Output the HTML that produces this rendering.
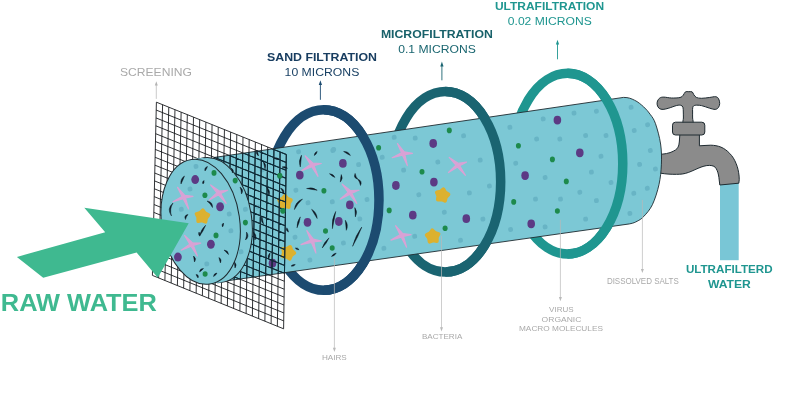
<!DOCTYPE html>
<html lang="en">
<head>
<meta charset="utf-8">
<title>Water filtration stages</title>
<style>
html,body{margin:0;padding:0;background:#fff;}
body{width:800px;height:415px;overflow:hidden;font-family:'Liberation Sans',sans-serif;}
svg{display:block;will-change:transform;}
</style>
</head>
<body>
<svg width="800" height="415" viewBox="0 0 800 415">
<rect width="800" height="415" fill="#ffffff"/>
<g fill="none" stroke-width="9.5">
<ellipse cx="323.7" cy="200" rx="55.3" ry="90.3" stroke="#1c4b70"/>
<ellipse cx="445.4" cy="181.75" rx="55.3" ry="90.3" stroke="#1a6471"/>
<ellipse cx="567.5" cy="163.65" rx="55.3" ry="90.3" stroke="#1f9690"/>
</g>
<g fill="#8b8b8b" stroke="#1e2a30" stroke-width="1" stroke-linejoin="round">
<rect x="720" y="182" width="18.7" height="78.2" fill="#79c6d6" stroke="none"/>
<path d="M679.9 134 L679.3 142 C679 146.5 677.5 148.6 675.6 149.9 C672.5 152 668.5 153.6 662 154.2 L655 154.4 L655 172.3 C662 173.5 668 174.3 672.8 174.3 C678 174.4 682 174.3 685.4 173.4 C690 172.2 694 170 698.1 168.3 C702 166.6 706 165.3 709.5 165.4 C713 165.5 715.2 166.5 716.3 168.8 C717.8 171.5 718.4 174 718.9 177.4 L719.8 185 L738.8 183.2 C739.3 181 739.4 178.5 739.1 176.1 C738.6 171.5 737.8 167.5 736.1 163.5 C734.6 159.8 732.6 156.3 729.7 153.4 C727.3 150.8 724.3 148.5 720.9 147.1 C717.7 145.8 714.3 145.3 710.8 145.2 C707 145.1 703 145.8 699.4 145.8 L699.4 134 Z"/>
<path d="M685.4 91.9 C686.32 91.33 687.67 91.7 688.8 91.7 C689.93 91.7 691.38 91.43 692.2 91.9 C693.02 92.37 693.02 93.58 693.7 94.5 C694.38 95.42 695 96.77 696.3 97.4 C697.6 98.03 699.33 98.28 701.5 98.3 C703.67 98.32 706.92 97.77 709.3 97.5 C711.68 97.23 714.23 96.45 715.8 96.7 C717.37 96.95 718.05 97.85 718.7 99 C719.35 100.15 719.75 102.18 719.7 103.6 C719.65 105.02 719.15 106.53 718.4 107.5 C717.65 108.47 716.72 109.3 715.2 109.4 C713.68 109.5 711.58 108.73 709.3 108.1 C707.02 107.47 703.85 106.07 701.5 105.6 C699.15 105.13 696.65 105.03 695.2 105.3 C693.75 105.57 693.23 106.08 692.8 107.2 C692.37 108.32 692.63 110.2 692.6 112 C692.57 113.8 692.6 116 692.6 118 C692.6 120 694.12 123 692.6 124 C691.08 125 685.03 125 683.5 124 C681.97 123 683.43 120 683.4 118 C683.37 116 683.38 113.8 683.3 112 C683.22 110.2 683.32 108.32 682.9 107.2 C682.48 106.08 681.83 105.58 680.8 105.3 C679.77 105.02 678.68 105.03 676.7 105.5 C674.72 105.97 671.17 107.45 668.9 108.1 C666.63 108.75 664.72 109.35 663.1 109.4 C661.48 109.45 660.18 109.15 659.2 108.4 C658.22 107.65 657.48 106.13 657.2 104.9 C656.92 103.67 657.07 102.15 657.5 101 C657.93 99.85 658.77 98.65 659.8 98 C660.83 97.35 661.75 97.1 663.7 97.1 C665.65 97.1 668.78 97.93 671.5 98 C674.22 98.07 678.03 97.98 680 97.5 C681.97 97.02 682.4 96.03 683.3 95.1 C684.2 94.17 684.48 92.47 685.4 91.9Z"/>
<rect x="672.5" y="122.2" width="32.3" height="12.8" rx="3" ry="3"/>
</g>
<path d="M214 157.5 L623.5 97.4 C628.75 97.37 631.13 98.62 634.5 100.2 C637.87 101.78 641.05 104.5 643.7 106.9 C646.35 109.3 648.43 111.8 650.4 114.6 C652.37 117.4 653.8 118.8 655.5 123.7 C657.2 128.6 659.62 137.25 660.6 144 C661.58 150.75 661.67 157.45 661.4 164.2 C661.13 170.95 660.5 177.75 659 184.5 C657.5 191.25 654.95 199.37 652.4 204.7 C649.85 210.03 646.23 213.75 643.7 216.5 C641.17 219.25 639.57 219.97 637.2 221.2 C634.83 222.43 634.03 222.98 629.5 223.9 L228 280.7 Z" fill="#7cc8d5" stroke="#1e2a30" stroke-width="0.9"/>
<g fill="#68b4c5">
<rect x="296.2" y="149.3" width="4.8" height="4.8" rx="1.9" ry="1.9" transform="rotate(-8 298.6 151.7)"/>
<rect x="330.4" y="148.1" width="4.8" height="4.8" rx="1.9" ry="1.9" transform="rotate(-8 332.8 150.5)"/>
<rect x="293.5" y="187.8" width="4.8" height="4.8" rx="1.9" ry="1.9" transform="rotate(-8 295.9 190.2)"/>
<rect x="305.6" y="200.4" width="4.8" height="4.8" rx="1.9" ry="1.9" transform="rotate(-8 308 202.8)"/>
<rect x="329.9" y="199.4" width="4.8" height="4.8" rx="1.9" ry="1.9" transform="rotate(-8 332.3 201.8)"/>
<rect x="255.6" y="204.6" width="4.8" height="4.8" rx="1.9" ry="1.9" transform="rotate(-8 258 207)"/>
<rect x="242.6" y="207.1" width="4.8" height="4.8" rx="1.9" ry="1.9" transform="rotate(-8 245 209.5)"/>
<rect x="292.6" y="234.8" width="4.8" height="4.8" rx="1.9" ry="1.9" transform="rotate(-8 295 237.2)"/>
<rect x="307.5" y="257.6" width="4.8" height="4.8" rx="1.9" ry="1.9" transform="rotate(-8 309.9 260)"/>
<rect x="331.3" y="147" width="4.8" height="4.8" rx="1.9" ry="1.9" transform="rotate(-8 333.7 149.4)"/>
<rect x="356.2" y="162.2" width="4.8" height="4.8" rx="1.9" ry="1.9" transform="rotate(-8 358.6 164.6)"/>
<rect x="379.8" y="154.9" width="4.8" height="4.8" rx="1.9" ry="1.9" transform="rotate(-8 382.2 157.3)"/>
<rect x="391.8" y="134.9" width="4.8" height="4.8" rx="1.9" ry="1.9" transform="rotate(-8 394.2 137.3)"/>
<rect x="412.8" y="135.7" width="4.8" height="4.8" rx="1.9" ry="1.9" transform="rotate(-8 415.2 138.1)"/>
<rect x="401.2" y="167.7" width="4.8" height="4.8" rx="1.9" ry="1.9" transform="rotate(-8 403.6 170.1)"/>
<rect x="364.6" y="197.1" width="4.8" height="4.8" rx="1.9" ry="1.9" transform="rotate(-8 367 199.5)"/>
<rect x="416.4" y="192.3" width="4.8" height="4.8" rx="1.9" ry="1.9" transform="rotate(-8 418.8 194.7)"/>
<rect x="357.4" y="216.5" width="4.8" height="4.8" rx="1.9" ry="1.9" transform="rotate(-8 359.8 218.9)"/>
<rect x="341" y="240.6" width="4.8" height="4.8" rx="1.9" ry="1.9" transform="rotate(-8 343.4 243)"/>
<rect x="381.5" y="245.9" width="4.8" height="4.8" rx="1.9" ry="1.9" transform="rotate(-8 383.9 248.3)"/>
<rect x="412.3" y="233.9" width="4.8" height="4.8" rx="1.9" ry="1.9" transform="rotate(-8 414.7 236.3)"/>
<rect x="461.2" y="133.4" width="4.8" height="4.8" rx="1.9" ry="1.9" transform="rotate(-8 463.6 135.8)"/>
<rect x="435.4" y="159.6" width="4.8" height="4.8" rx="1.9" ry="1.9" transform="rotate(-8 437.8 162)"/>
<rect x="477.8" y="157.7" width="4.8" height="4.8" rx="1.9" ry="1.9" transform="rotate(-8 480.2 160.1)"/>
<rect x="467" y="190.5" width="4.8" height="4.8" rx="1.9" ry="1.9" transform="rotate(-8 469.4 192.9)"/>
<rect x="487" y="183.6" width="4.8" height="4.8" rx="1.9" ry="1.9" transform="rotate(-8 489.4 186)"/>
<rect x="441.9" y="209.8" width="4.8" height="4.8" rx="1.9" ry="1.9" transform="rotate(-8 444.3 212.2)"/>
<rect x="480.5" y="216.7" width="4.8" height="4.8" rx="1.9" ry="1.9" transform="rotate(-8 482.9 219.1)"/>
<rect x="458.1" y="237.9" width="4.8" height="4.8" rx="1.9" ry="1.9" transform="rotate(-8 460.5 240.3)"/>
<rect x="507.5" y="124.9" width="4.8" height="4.8" rx="1.9" ry="1.9" transform="rotate(-8 509.9 127.3)"/>
<rect x="513.3" y="160.8" width="4.8" height="4.8" rx="1.9" ry="1.9" transform="rotate(-8 515.7 163.2)"/>
<rect x="508.2" y="227.1" width="4.8" height="4.8" rx="1.9" ry="1.9" transform="rotate(-8 510.6 229.5)"/>
<rect x="540.8" y="116.5" width="4.8" height="4.8" rx="1.9" ry="1.9" transform="rotate(-8 543.2 118.9)"/>
<rect x="571.6" y="110.7" width="4.8" height="4.8" rx="1.9" ry="1.9" transform="rotate(-8 574 113.1)"/>
<rect x="594" y="108.8" width="4.8" height="4.8" rx="1.9" ry="1.9" transform="rotate(-8 596.4 111.2)"/>
<rect x="628.7" y="104.9" width="4.8" height="4.8" rx="1.9" ry="1.9" transform="rotate(-8 631.1 107.3)"/>
<rect x="534.2" y="136.6" width="4.8" height="4.8" rx="1.9" ry="1.9" transform="rotate(-8 536.6 139)"/>
<rect x="557.4" y="136.6" width="4.8" height="4.8" rx="1.9" ry="1.9" transform="rotate(-8 559.8 139)"/>
<rect x="583.2" y="133.1" width="4.8" height="4.8" rx="1.9" ry="1.9" transform="rotate(-8 585.6 135.5)"/>
<rect x="603.6" y="133.1" width="4.8" height="4.8" rx="1.9" ry="1.9" transform="rotate(-8 606 135.5)"/>
<rect x="631.8" y="128.1" width="4.8" height="4.8" rx="1.9" ry="1.9" transform="rotate(-8 634.2 130.5)"/>
<rect x="645.2" y="122.3" width="4.8" height="4.8" rx="1.9" ry="1.9" transform="rotate(-8 647.6 124.7)"/>
<rect x="598.6" y="153.9" width="4.8" height="4.8" rx="1.9" ry="1.9" transform="rotate(-8 601 156.3)"/>
<rect x="647.9" y="148.1" width="4.8" height="4.8" rx="1.9" ry="1.9" transform="rotate(-8 650.3 150.5)"/>
<rect x="589" y="169.7" width="4.8" height="4.8" rx="1.9" ry="1.9" transform="rotate(-8 591.4 172.1)"/>
<rect x="637.2" y="162" width="4.8" height="4.8" rx="1.9" ry="1.9" transform="rotate(-8 639.6 164.4)"/>
<rect x="653" y="166.6" width="4.8" height="4.8" rx="1.9" ry="1.9" transform="rotate(-8 655.4 169)"/>
<rect x="542.7" y="175.1" width="4.8" height="4.8" rx="1.9" ry="1.9" transform="rotate(-8 545.1 177.5)"/>
<rect x="608.6" y="180.1" width="4.8" height="4.8" rx="1.9" ry="1.9" transform="rotate(-8 611 182.5)"/>
<rect x="644.9" y="185.9" width="4.8" height="4.8" rx="1.9" ry="1.9" transform="rotate(-8 647.3 188.3)"/>
<rect x="577.4" y="189.8" width="4.8" height="4.8" rx="1.9" ry="1.9" transform="rotate(-8 579.8 192.2)"/>
<rect x="631.4" y="190.9" width="4.8" height="4.8" rx="1.9" ry="1.9" transform="rotate(-8 633.8 193.3)"/>
<rect x="533.1" y="196.7" width="4.8" height="4.8" rx="1.9" ry="1.9" transform="rotate(-8 535.5 199.1)"/>
<rect x="558.1" y="196.7" width="4.8" height="4.8" rx="1.9" ry="1.9" transform="rotate(-8 560.5 199.1)"/>
<rect x="594" y="198.2" width="4.8" height="4.8" rx="1.9" ry="1.9" transform="rotate(-8 596.4 200.6)"/>
<rect x="583.2" y="216.7" width="4.8" height="4.8" rx="1.9" ry="1.9" transform="rotate(-8 585.6 219.1)"/>
<rect x="627.5" y="211" width="4.8" height="4.8" rx="1.9" ry="1.9" transform="rotate(-8 629.9 213.4)"/>
<rect x="542.7" y="224.5" width="4.8" height="4.8" rx="1.9" ry="1.9" transform="rotate(-8 545.1 226.9)"/>
<rect x="611.6" y="106.1" width="4.8" height="4.8" rx="1.9" ry="1.9" transform="rotate(-8 614 108.5)"/>
<rect x="259.6" y="167.6" width="4.8" height="4.8" rx="1.9" ry="1.9" transform="rotate(-8 262 170)"/>
<rect x="247.6" y="243.6" width="4.8" height="4.8" rx="1.9" ry="1.9" transform="rotate(-8 250 246)"/>
<rect x="265.6" y="229.6" width="4.8" height="4.8" rx="1.9" ry="1.9" transform="rotate(-8 268 232)"/>
</g>
<g fill="#5c3a84">
<ellipse cx="299.8" cy="175.1" rx="3.8" ry="4.4"/>
<ellipse cx="307.5" cy="222.3" rx="3.8" ry="4.4"/>
<ellipse cx="338.8" cy="221.5" rx="3.8" ry="4.4"/>
<ellipse cx="272.5" cy="263.2" rx="3.8" ry="4.4"/>
<ellipse cx="342.9" cy="163.4" rx="3.8" ry="4.4"/>
<ellipse cx="349.8" cy="204.9" rx="3.8" ry="4.4"/>
<ellipse cx="395.9" cy="185.5" rx="3.8" ry="4.4"/>
<ellipse cx="412.8" cy="215.2" rx="3.8" ry="4.4"/>
<ellipse cx="433.2" cy="143.5" rx="3.8" ry="4.4"/>
<ellipse cx="433.9" cy="182.1" rx="3.8" ry="4.4"/>
<ellipse cx="466.3" cy="218.7" rx="3.8" ry="4.4"/>
<ellipse cx="557.4" cy="120.1" rx="3.8" ry="4.4"/>
<ellipse cx="579.8" cy="152.8" rx="3.8" ry="4.4"/>
<ellipse cx="525.1" cy="175.6" rx="3.8" ry="4.4"/>
<ellipse cx="531.2" cy="223.8" rx="3.8" ry="4.4"/>
</g>
<g fill="#1d8a4c">
<ellipse cx="279.8" cy="175.8" rx="2.5" ry="2.8"/>
<ellipse cx="323.9" cy="190.7" rx="2.5" ry="2.8"/>
<ellipse cx="282.9" cy="210.7" rx="2.5" ry="2.8"/>
<ellipse cx="245.3" cy="222.5" rx="2.5" ry="2.8"/>
<ellipse cx="325.5" cy="231" rx="2.5" ry="2.8"/>
<ellipse cx="332.2" cy="248" rx="2.5" ry="2.8"/>
<ellipse cx="378.6" cy="147.7" rx="2.5" ry="2.8"/>
<ellipse cx="389.2" cy="210.4" rx="2.5" ry="2.8"/>
<ellipse cx="449.3" cy="130.4" rx="2.5" ry="2.8"/>
<ellipse cx="422" cy="171.7" rx="2.5" ry="2.8"/>
<ellipse cx="445.1" cy="228.3" rx="2.5" ry="2.8"/>
<ellipse cx="513.7" cy="201.9" rx="2.5" ry="2.8"/>
<ellipse cx="518.4" cy="145.7" rx="2.5" ry="2.8"/>
<ellipse cx="552.4" cy="159.4" rx="2.5" ry="2.8"/>
<ellipse cx="566.3" cy="181.4" rx="2.5" ry="2.8"/>
<ellipse cx="557.4" cy="211" rx="2.5" ry="2.8"/>
</g>
<path d="M-7.12 -9.03 L0.69 -1.77 L9.03 -1.42 L1.69 0.87 L5.7 11.4 L-0.57 1.81 L-10.45 5.7 L-1.86 -0.38Z" fill="#d9a2d5" stroke="#d9a2d5" stroke-width="1.2" stroke-linejoin="round" transform="translate(312.3 164.9) rotate(0)"/>
<path d="M-7.12 -9.03 L0.69 -1.77 L9.03 -1.42 L1.69 0.87 L5.7 11.4 L-0.57 1.81 L-10.45 5.7 L-1.86 -0.38Z" fill="#d9a2d5" stroke="#d9a2d5" stroke-width="1.2" stroke-linejoin="round" transform="translate(312.3 240.8) rotate(10)"/>
<path d="M-7.12 -9.03 L0.69 -1.77 L9.03 -1.42 L1.69 0.87 L5.7 11.4 L-0.57 1.81 L-10.45 5.7 L-1.86 -0.38Z" fill="#d9a2d5" stroke="#d9a2d5" stroke-width="1.2" stroke-linejoin="round" transform="translate(350.1 192.5) rotate(-5)"/>
<path d="M-7.12 -9.03 L0.69 -1.77 L9.03 -1.42 L1.69 0.87 L5.7 11.4 L-0.57 1.81 L-10.45 5.7 L-1.86 -0.38Z" fill="#d9a2d5" stroke="#d9a2d5" stroke-width="1.2" stroke-linejoin="round" transform="translate(403.3 153.5) rotate(8)"/>
<path d="M-7.12 -9.03 L0.69 -1.77 L9.03 -1.42 L1.69 0.87 L5.7 11.4 L-0.57 1.81 L-10.45 5.7 L-1.86 -0.38Z" fill="#d9a2d5" stroke="#d9a2d5" stroke-width="1.2" stroke-linejoin="round" transform="translate(401.9 235.3) rotate(5)"/>
<path d="M-7.12 -9.03 L0.69 -1.77 L9.03 -1.42 L1.69 0.87 L5.7 11.4 L-0.57 1.81 L-10.45 5.7 L-1.86 -0.38Z" fill="#d9a2d5" stroke="#d9a2d5" stroke-width="1.2" stroke-linejoin="round" transform="translate(457.8 165.1) rotate(-10)"/>
<path d="M0 -6.2 L2.41 -3.31 L5.9 -1.92 L3.89 1.26 L3.64 5.02 L0 4.09 L-3.64 5.02 L-3.89 1.26 L-5.9 -1.92 L-2.41 -3.31Z" fill="#dcb12f" stroke="#dcb12f" stroke-width="3.8" stroke-linejoin="round" transform="translate(285 202) rotate(0)"/>
<path d="M0 -6.2 L2.41 -3.31 L5.9 -1.92 L3.89 1.26 L3.64 5.02 L0 4.09 L-3.64 5.02 L-3.89 1.26 L-5.9 -1.92 L-2.41 -3.31Z" fill="#dcb12f" stroke="#dcb12f" stroke-width="3.8" stroke-linejoin="round" transform="translate(288 252.8) rotate(20)"/>
<path d="M0 -6.2 L2.41 -3.31 L5.9 -1.92 L3.89 1.26 L3.64 5.02 L0 4.09 L-3.64 5.02 L-3.89 1.26 L-5.9 -1.92 L-2.41 -3.31Z" fill="#dcb12f" stroke="#dcb12f" stroke-width="3.8" stroke-linejoin="round" transform="translate(442.3 195.3) rotate(10)"/>
<path d="M0 -6.2 L2.41 -3.31 L5.9 -1.92 L3.89 1.26 L3.64 5.02 L0 4.09 L-3.64 5.02 L-3.89 1.26 L-5.9 -1.92 L-2.41 -3.31Z" fill="#dcb12f" stroke="#dcb12f" stroke-width="3.8" stroke-linejoin="round" transform="translate(432.8 236.4) rotate(-5)"/>
<g fill="#0e1a26" stroke="#0e1a26" stroke-width="0.45" stroke-linejoin="round">
<path d="M301.5 155.2 Q297.99 160.8 300.3 167 Q300.98 161.11 301.5 155.2Z"/>
<path d="M317.2 151.5 Q314.34 152.47 314.3 155.5 Q316.76 154.24 317.2 151.5Z"/>
<path d="M343.6 151.5 Q346.84 153.77 350.4 155.5 Q348.36 151.19 343.6 151.5Z"/>
<path d="M329.5 173.7 Q331.72 176.25 334.9 177.4 Q333.42 173.77 329.5 173.7Z"/>
<path d="M341.3 174.6 Q340.44 178.3 340.3 182.1 Q343.41 178.7 341.3 174.6Z"/>
<path d="M355.1 173.4 Q353.06 177.88 357.8 179.2 Q355.78 176.61 355.1 173.4Z"/>
<path d="M357.8 179.2 Q359.98 182 360.5 185.5 Q362.73 180.81 357.8 179.2Z"/>
<path d="M306.6 188.5 Q311.87 189.56 317.2 190.2 Q312.34 186.6 306.6 188.5Z"/>
<path d="M302.5 199 Q295.14 201.77 294.4 209.6 Q297.52 203.59 302.5 199Z"/>
<path d="M311.6 209.3 Q314.22 214.01 317.2 218.5 Q316.79 212.45 311.6 209.3Z"/>
<path d="M300.3 216.9 Q296.67 221.75 297 227.8 Q299.54 222.62 300.3 216.9Z"/>
<path d="M335.7 211.5 Q331.2 219.55 332.4 228.7 Q334.15 220.12 335.7 211.5Z"/>
<path d="M354.8 207.6 Q355 212.26 355.4 216.9 Q357.99 212.06 354.8 207.6Z"/>
<path d="M345.3 220.2 Q345.82 225.25 346.3 230.3 Q348.81 224.95 345.3 220.2Z"/>
<path d="M361.8 227 Q355.27 235.73 352.6 246.3 Q357.98 237.02 361.8 227Z"/>
<path d="M329 237.9 Q324.05 241.91 322.2 248 Q326.54 243.58 329 237.9Z"/>
<path d="M336.2 253.1 Q332.97 253.58 331.5 256.5 Q334.73 256.02 336.2 253.1Z"/>
<path d="M286.8 227.8 Q285.42 230.8 288.5 232 Q288.2 229.68 286.8 227.8Z"/>
<path d="M295.3 248 Q296.59 250.22 299.1 249.7 Q297.81 247.48 295.3 248Z"/>
<path d="M291.1 266 Q293.67 266.72 295.3 264.6 Q292.73 263.88 291.1 266Z"/>
</g>
<g stroke="#15171a" stroke-width="0.88" fill="none">
<path d="M156.4 102.2L152.4 275.4M162.59 104.69L158.65 277.94M168.77 107.18L164.9 280.49M174.96 109.67L171.14 283.03M181.14 112.16L177.39 285.57M187.33 114.65L183.64 288.11M193.51 117.14L189.89 290.66M199.7 119.63L196.13 293.2M205.89 122.12L202.38 295.74M212.07 124.61L208.63 298.29M218.26 127.1L214.88 300.83M224.44 129.6L221.12 303.37M230.63 132.09L227.37 305.91M236.81 134.58L233.62 308.46M243 137.07L239.87 311M249.19 139.56L246.11 313.54M255.37 142.05L252.36 316.09M261.56 144.54L258.61 318.63M267.74 147.03L264.86 321.17M273.93 149.52L271.1 323.71M280.11 152.01L277.35 326.26M286.3 154.5L283.6 328.8M156.4 102.2L286.3 154.5M156.22 110.07L286.18 162.42M156.04 117.95L286.05 170.35M155.85 125.82L285.93 178.27M155.67 133.69L285.81 186.19M155.49 141.56L285.69 194.11M155.31 149.44L285.56 202.04M155.13 157.31L285.44 209.96M154.95 165.18L285.32 217.88M154.76 173.05L285.2 225.8M154.58 180.93L285.07 233.73M154.4 188.8L284.95 241.65M154.22 196.67L284.83 249.57M154.04 204.55L284.7 257.5M153.85 212.42L284.58 265.42M153.67 220.29L284.46 273.34M153.49 228.16L284.34 281.26M153.31 236.04L284.21 289.19M153.13 243.91L284.09 297.11M152.95 251.78L283.97 305.03M152.76 259.65L283.85 312.95M152.58 267.53L283.72 320.88M152.4 275.4L283.6 328.8"/>
</g>
<clipPath id="tubeclip"><path d="M214 157.5 L300 144.88 L300 270.51 L228 280.7 Z"/></clipPath>
<path d="M156.4 102.2L152.4 275.4M162.59 104.69L158.65 277.94M168.77 107.18L164.9 280.49M174.96 109.67L171.14 283.03M181.14 112.16L177.39 285.57M187.33 114.65L183.64 288.11M193.51 117.14L189.89 290.66M199.7 119.63L196.13 293.2M205.89 122.12L202.38 295.74M212.07 124.61L208.63 298.29M218.26 127.1L214.88 300.83M224.44 129.6L221.12 303.37M230.63 132.09L227.37 305.91M236.81 134.58L233.62 308.46M243 137.07L239.87 311M249.19 139.56L246.11 313.54M255.37 142.05L252.36 316.09M261.56 144.54L258.61 318.63M267.74 147.03L264.86 321.17M273.93 149.52L271.1 323.71M280.11 152.01L277.35 326.26M286.3 154.5L283.6 328.8M156.4 102.2L286.3 154.5M156.22 110.07L286.18 162.42M156.04 117.95L286.05 170.35M155.85 125.82L285.93 178.27M155.67 133.69L285.81 186.19M155.49 141.56L285.69 194.11M155.31 149.44L285.56 202.04M155.13 157.31L285.44 209.96M154.95 165.18L285.32 217.88M154.76 173.05L285.2 225.8M154.58 180.93L285.07 233.73M154.4 188.8L284.95 241.65M154.22 196.67L284.83 249.57M154.04 204.55L284.7 257.5M153.85 212.42L284.58 265.42M153.67 220.29L284.46 273.34M153.49 228.16L284.34 281.26M153.31 236.04L284.21 289.19M153.13 243.91L284.09 297.11M152.95 251.78L283.97 305.03M152.76 259.65L283.85 312.95M152.58 267.53L283.72 320.88M152.4 275.4L283.6 328.8" stroke="#0c2c3a" stroke-width="1.05" fill="none" clip-path="url(#tubeclip)"/>
<g fill="#1d8a4c">
<ellipse cx="279.8" cy="175.8" rx="2.5" ry="2.8"/>
<ellipse cx="282.9" cy="210.7" rx="2.5" ry="2.8"/>
</g>
<g fill="#0e1a26" stroke="#0e1a26" stroke-width="0.45" stroke-linejoin="round">
<path d="M263.3 161.5 Q264.19 165.24 265 169 Q267.11 164.58 263.3 161.5Z"/>
<path d="M274 158.3 Q276.29 160.14 279 159 Q276.71 157.16 274 158.3Z"/>
<path d="M282 167 Q284.53 168.56 287.5 168.3 Q285.23 165.64 282 167Z"/>
<path d="M266.5 187 Q268.1 191.4 269 196 Q271 190.6 266.5 187Z"/>
<path d="M280.5 188 Q282.46 190.77 283.5 194 Q285.14 189.43 280.5 188Z"/>
<path d="M257 150 Q255.09 153.66 258.5 156 Q258.01 152.94 257 150Z"/>
<path d="M262 216 Q259.68 220.58 263.5 224 Q262.62 220.02 262 216Z"/>
<path d="M270 253 Q267.19 255.49 268.5 259 Q270.11 256.21 270 253Z"/>
<path d="M253.5 232 Q254.38 235.98 255 240 Q257.32 235.42 253.5 232Z"/>
</g>
<g fill="#7cc8d5" stroke="#1e2a30" stroke-width="1">
<ellipse cx="212.65" cy="220.05" rx="39" ry="63" transform="rotate(-8.4 212.65 220.05)"/>
<path d="M191.4 159.4 L203.4 157.8 L221.8 282.3 L209.9 284 Z" stroke="none"/>
<ellipse cx="200.65" cy="221.75" rx="39" ry="63" transform="rotate(-8.4 200.65 221.75)"/>
</g>
<g fill="#68b4c5">
<rect x="193.6" y="164" width="4.8" height="4.8" rx="1.9" ry="1.9" transform="rotate(-8 196 166.4)"/>
<rect x="187.6" y="186.6" width="4.8" height="4.8" rx="1.9" ry="1.9" transform="rotate(-8 190 189)"/>
<rect x="178.9" y="206.9" width="4.8" height="4.8" rx="1.9" ry="1.9" transform="rotate(-8 181.3 209.3)"/>
<rect x="226.8" y="211.6" width="4.8" height="4.8" rx="1.9" ry="1.9" transform="rotate(-8 229.2 214)"/>
<rect x="228.5" y="228.4" width="4.8" height="4.8" rx="1.9" ry="1.9" transform="rotate(-8 230.9 230.8)"/>
<rect x="204.4" y="261.5" width="4.8" height="4.8" rx="1.9" ry="1.9" transform="rotate(-8 206.8 263.9)"/>
<rect x="243" y="206.9" width="4.8" height="4.8" rx="1.9" ry="1.9" transform="rotate(-8 245.4 209.3)"/>
<rect x="238.6" y="249.4" width="4.8" height="4.8" rx="1.9" ry="1.9" transform="rotate(-8 241 251.8)"/>
</g>
<g fill="#5c3a84">
<ellipse cx="195.2" cy="179.6" rx="3.9" ry="4.5"/>
<ellipse cx="220.1" cy="206.7" rx="3.9" ry="4.5"/>
<ellipse cx="210.9" cy="244.3" rx="3.9" ry="4.5"/>
<ellipse cx="177.9" cy="257.1" rx="3.9" ry="4.5"/>
</g>
<g fill="#1d8a4c">
<ellipse cx="214" cy="172.9" rx="2.5" ry="2.8"/>
<ellipse cx="204.9" cy="195.3" rx="2.5" ry="2.8"/>
<ellipse cx="216" cy="235.4" rx="2.5" ry="2.8"/>
<ellipse cx="205.1" cy="274" rx="2.5" ry="2.8"/>
<ellipse cx="235.2" cy="180.6" rx="2.5" ry="2.8"/>
<ellipse cx="245.4" cy="222.6" rx="2.5" ry="2.8"/>
</g>
<path d="M-7.12 -9.03 L0.69 -1.77 L9.03 -1.42 L1.69 0.87 L5.7 11.4 L-0.57 1.81 L-10.45 5.7 L-1.86 -0.38Z" fill="#d9a2d5" stroke="#d9a2d5" stroke-width="1.2" stroke-linejoin="round" transform="translate(183.9 197) rotate(5)"/>
<path d="M-7.12 -9.03 L0.69 -1.77 L9.03 -1.42 L1.69 0.87 L5.7 11.4 L-0.57 1.81 L-10.45 5.7 L-1.86 -0.38Z" fill="#d9a2d5" stroke="#d9a2d5" stroke-width="1.2" stroke-linejoin="round" transform="translate(218.9 192.9) rotate(-8)"/>
<path d="M-7.12 -9.03 L0.69 -1.77 L9.03 -1.42 L1.69 0.87 L5.7 11.4 L-0.57 1.81 L-10.45 5.7 L-1.86 -0.38Z" fill="#d9a2d5" stroke="#d9a2d5" stroke-width="1.2" stroke-linejoin="round" transform="translate(191.7 244.5) rotate(0)"/>
<path d="M0 -6.2 L2.41 -3.31 L5.9 -1.92 L3.89 1.26 L3.64 5.02 L0 4.09 L-3.64 5.02 L-3.89 1.26 L-5.9 -1.92 L-2.41 -3.31Z" fill="#dcb12f" stroke="#dcb12f" stroke-width="3.8" stroke-linejoin="round" transform="translate(202.3 216.4) rotate(5)"/>
<g fill="#0e1a26" stroke="#0e1a26" stroke-width="0.45" stroke-linejoin="round">
<path d="M207.5 166.5 Q204.04 167.52 205 171 Q206.66 168.98 207.5 166.5Z"/>
<path d="M184.5 176 Q180.18 178.87 181 184 Q182.92 180.08 184.5 176Z"/>
<path d="M204 180.5 Q201.71 181.74 203 184 Q204.59 182.56 204 180.5Z"/>
<path d="M173 203 Q166.21 208.8 171.5 216 Q169.19 209.15 173 203Z"/>
<path d="M188 214.5 Q183.41 215.33 185.5 219.5 Q186.09 216.67 188 214.5Z"/>
<path d="M207 201 Q210.55 203.57 212.5 207.5 Q212.85 201.63 207 201Z"/>
<path d="M205.6 225.3 Q200.75 229.67 199.6 236.1 Q203.37 231.13 205.6 225.3Z"/>
<path d="M199.6 236.1 Q200.78 233.83 199 232 Q197.82 234.27 199.6 236.1Z"/>
<path d="M223.5 223 Q221.14 224.54 222.5 227 Q224.06 225.26 223.5 223Z"/>
<path d="M224 250 Q226.09 252.41 228.5 254.5 Q228.21 250.29 224 250Z"/>
<path d="M193.5 256 Q194.02 259 194.5 262 Q196.98 258.5 193.5 256Z"/>
<path d="M219 257.5 Q219.4 260.34 220.5 263 Q222.3 259.56 219 257.5Z"/>
<path d="M203.5 268.5 Q199.81 268.32 199.5 272 Q201.79 270.58 203.5 268.5Z"/>
<path d="M196 274.5 Q196.75 276.39 198 278 Q199.35 274.91 196 274.5Z"/>
<path d="M217 273 Q213.84 273.34 213.5 276.5 Q215.96 275.46 217 273Z"/>
<path d="M234.5 262 Q234.46 265.02 235 268 Q237.44 264.78 234.5 262Z"/>
<path d="M240 187 Q241.38 190.36 241.5 194 Q244.32 189.74 240 187Z"/>
<path d="M231 168 Q231.81 170.48 232.5 173 Q234.69 169.62 231 168Z"/>
<path d="M246.5 232 Q246.91 236.11 245.5 240 Q249.89 236.49 246.5 232Z"/>
</g>
<polygon points="16.9,256.9 105.2,232.3 84.3,207.7 188.7,223.2 157.8,277.8 136.6,252.5 43.2,277.8" fill="#3fb990"/>
<g fill="none" stroke-width="9.5">
<path d="M323.7 109.7 A55.3 90.3 0 0 1 323.7 290.3" stroke="#1c4b70"/>
<path d="M445.4 91.45 A55.3 90.3 0 0 1 445.4 272.05" stroke="#1a6471"/>
<path d="M567.5 73.35 A55.3 90.3 0 0 1 567.5 253.95" stroke="#1f9690"/>
</g>
<path d="M156.3 98.9 L156.3 83.82" stroke="#b4b4b4" stroke-width="0.7" fill="none"/>
<path d="M156.3 81.3 L154.8 85.5 L157.8 85.5 Z" fill="#b4b4b4"/>
<path d="M320.4 99.8 L320.4 83.18" stroke="#1c4b70" stroke-width="0.9" fill="none"/>
<path d="M320.4 80.3 L318.77 85.1 L322.03 85.1 Z" fill="#1c4b70"/>
<path d="M441.9 80.3 L441.9 64.48" stroke="#1a6471" stroke-width="0.9" fill="none"/>
<path d="M441.9 61.6 L440.27 66.4 L443.53 66.4 Z" fill="#1a6471"/>
<path d="M557.5 59.3 L557.5 42.58" stroke="#1f9690" stroke-width="0.9" fill="none"/>
<path d="M557.5 39.7 L555.87 44.5 L559.13 44.5 Z" fill="#1f9690"/>
<path d="M334.4 257.6 L334.4 349.38" stroke="#b9b9b9" stroke-width="0.7" fill="none"/>
<path d="M334.4 351.9 L332.9 347.7 L335.9 347.7 Z" fill="#b9b9b9"/>
<path d="M441.5 235.8 L441.5 328.88" stroke="#b9b9b9" stroke-width="0.7" fill="none"/>
<path d="M441.5 331.4 L440 327.2 L443 327.2 Z" fill="#b9b9b9"/>
<path d="M560.4 219.8 L560.4 298.78" stroke="#b9b9b9" stroke-width="0.7" fill="none"/>
<path d="M560.4 301.3 L558.9 297.1 L561.9 297.1 Z" fill="#b9b9b9"/>
<path d="M642.4 199.9 L642.4 270.58" stroke="#b9b9b9" stroke-width="0.7" fill="none"/>
<path d="M642.4 273.1 L640.9 268.9 L643.9 268.9 Z" fill="#b9b9b9"/>
<text x="120" y="76.2" font-family="'Liberation Sans', sans-serif" font-size="11.8" font-weight="normal" fill="#a9a9a9" textLength="71.9" lengthAdjust="spacingAndGlyphs">SCREENING</text>
<text x="267" y="61" font-family="'Liberation Sans', sans-serif" font-size="11.7" font-weight="bold" fill="#183d60" textLength="109.9" lengthAdjust="spacingAndGlyphs">SAND FILTRATION</text>
<text x="284.6" y="76.1" font-family="'Liberation Sans', sans-serif" font-size="11.7" font-weight="normal" fill="#1b4265" textLength="74.7" lengthAdjust="spacingAndGlyphs">10 MICRONS</text>
<text x="380.9" y="37.6" font-family="'Liberation Sans', sans-serif" font-size="11.7" font-weight="bold" fill="#18616a" textLength="111.9" lengthAdjust="spacingAndGlyphs">MICROFILTRATION</text>
<text x="398.2" y="52.7" font-family="'Liberation Sans', sans-serif" font-size="11.7" font-weight="normal" fill="#1a6670" textLength="77.6" lengthAdjust="spacingAndGlyphs">0.1 MICRONS</text>
<text x="494.9" y="10.4" font-family="'Liberation Sans', sans-serif" font-size="11.7" font-weight="bold" fill="#1f9690" textLength="109.2" lengthAdjust="spacingAndGlyphs">ULTRAFILTRATION</text>
<text x="507.8" y="25.1" font-family="'Liberation Sans', sans-serif" font-size="11.7" font-weight="normal" fill="#1f9690" textLength="84" lengthAdjust="spacingAndGlyphs">0.02 MICRONS</text>
<text x="0.8" y="310.8" font-family="'Liberation Sans', sans-serif" font-size="24.7" font-weight="bold" fill="#3fb990" textLength="156.1" lengthAdjust="spacingAndGlyphs">RAW WATER</text>
<text x="685.9" y="273.1" font-family="'Liberation Sans', sans-serif" font-size="11.5" font-weight="bold" fill="#1f9690" textLength="86.7" lengthAdjust="spacingAndGlyphs">ULTRAFILTERD</text>
<text x="707.9" y="287.8" font-family="'Liberation Sans', sans-serif" font-size="11.5" font-weight="bold" fill="#1f9690" textLength="42.9" lengthAdjust="spacingAndGlyphs">WATER</text>
<text x="321.9" y="360.1" font-family="'Liberation Sans', sans-serif" font-size="7.2" font-weight="normal" fill="#a9a9a9" textLength="24.9" lengthAdjust="spacingAndGlyphs">HAIRS</text>
<text x="421.9" y="339.1" font-family="'Liberation Sans', sans-serif" font-size="7.2" font-weight="normal" fill="#a9a9a9" textLength="40.4" lengthAdjust="spacingAndGlyphs">BACTERIA</text>
<text x="549.1" y="312.2" font-family="'Liberation Sans', sans-serif" font-size="7.6" font-weight="normal" fill="#a9a9a9" textLength="24.6" lengthAdjust="spacingAndGlyphs">VIRUS</text>
<text x="541.6" y="321.6" font-family="'Liberation Sans', sans-serif" font-size="7.6" font-weight="normal" fill="#a9a9a9" textLength="39.8" lengthAdjust="spacingAndGlyphs">ORGANIC</text>
<text x="519" y="331" font-family="'Liberation Sans', sans-serif" font-size="7.6" font-weight="normal" fill="#a9a9a9" textLength="83.9" lengthAdjust="spacingAndGlyphs">MACRO MOLECULES</text>
<text x="606.9" y="284.3" font-family="'Liberation Sans', sans-serif" font-size="8.2" font-weight="normal" fill="#a9a9a9" textLength="71.9" lengthAdjust="spacingAndGlyphs">DISSOLVED SALTS</text>
</svg>
</body>
</html>
